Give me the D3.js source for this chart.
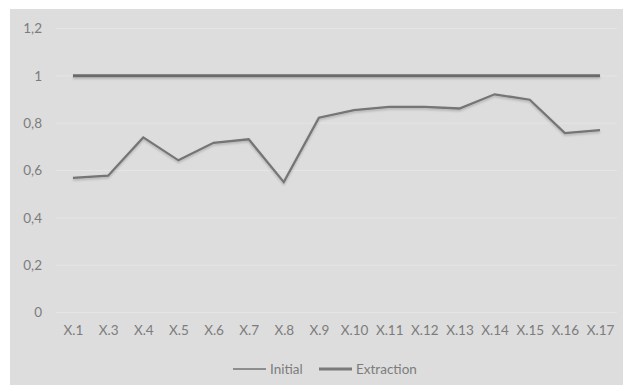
<!DOCTYPE html>
<html>
<head>
<meta charset="utf-8">
<script src="https://cdn.jsdelivr.net/npm/d3@7"></script>
<style>
  body { margin: 0; background: #fff; }
  text { font-family: Lato, "Open Sans", sans-serif; }
</style>
</head>
<body>
<script>
// data
const categories = ["X.1","X.3","X.4","X.5","X.6","X.7","X.8","X.9","X.10","X.11","X.12","X.13","X.14","X.15","X.16","X.17"];
const initial = [1,1,1,1,1,1,1,1,1,1,1,1,1,1,1,1];
const extraction = [0.569,0.578,0.740,0.643,0.717,0.732,0.551,0.823,0.855,0.869,0.869,0.862,0.922,0.899,0.758,0.771];
const yTicks = [0, 0.2, 0.4, 0.6, 0.8, 1, 1.2];
const seriesNames = ["Initial", "Extraction"];

const w = 623, h = 387;
const textColor = "#7c7c7c";

const svg = d3.select("body").append("svg")
  .attr("width", w)
  .attr("height", h);

// chart area background
svg.append("rect")
  .attr("x", 10).attr("y", 9)
  .attr("width", w - 10).attr("height", 376)
  .attr("fill", "#dddddd");

const x = d3.scalePoint()
  .domain(categories)
  .range([73, 600]);

const y = d3.scaleLinear()
  .domain([0, 1.2])
  .range([312.5, 28.5]);

const fmt = d => String(+d.toFixed(1)).replace(".", ",");

// gridlines
svg.append("g")
  .selectAll("line")
  .data(yTicks)
  .join("line")
  .attr("x1", 56).attr("x2", 617)
  .attr("y1", d => y(d)).attr("y2", d => y(d))
  .attr("stroke", "#e5e5e5")
  .attr("stroke-width", 1);

// y axis labels
const yAxis = svg.append("g")
  .attr("transform", "translate(42,0)")
  .call(d3.axisLeft(y).tickValues(yTicks).tickFormat(fmt).tickSize(0).tickPadding(0));
yAxis.select(".domain").remove();
yAxis.selectAll("text")
  .attr("fill", textColor)
  .style("font-size", "13.5px")
  .style("font-family", "Lato, 'Open Sans', sans-serif");

// x axis labels
const xAxis = svg.append("g")
  .attr("transform", "translate(0,325)")
  .call(d3.axisBottom(x).tickSize(0).tickPadding(0));
xAxis.select(".domain").remove();
xAxis.selectAll("text")
  .attr("fill", textColor)
  .style("font-size", "13.5px")
  .style("font-family", "Lato, 'Open Sans', sans-serif");

// shadow for lines (user space so flat lines keep it)
const defs = svg.append("defs");
const f = defs.append("filter").attr("id", "sh")
  .attr("filterUnits", "userSpaceOnUse")
  .attr("x", 0).attr("y", 0).attr("width", w).attr("height", h);
f.append("feDropShadow").attr("dx", 0).attr("dy", 1.5).attr("stdDeviation", 1)
  .attr("flood-color", "#000").attr("flood-opacity", 0.22);

const line = d3.line()
  .x((d, i) => x(categories[i]))
  .y(d => y(d));

svg.append("path")
  .datum(initial)
  .attr("d", line)
  .attr("fill", "none")
  .attr("stroke", "#6b6b6b")
  .attr("stroke-width", 3)
  .attr("filter", "url(#sh)");

svg.append("path")
  .datum(extraction)
  .attr("d", line)
  .attr("fill", "none")
  .attr("stroke", "#747474")
  .attr("stroke-width", 2.25)
  .attr("filter", "url(#sh)");

// legend
const legendItems = [
  { name: seriesNames[0], x: 233, color: "#8e8e8e", width: 2 },
  { name: seriesNames[1], x: 319, color: "#7a7a7a", width: 3 }
];
const lg = svg.append("g").attr("transform", "translate(0,369)");
legendItems.forEach(d => {
  lg.append("line")
    .attr("x1", d.x).attr("x2", d.x + 33)
    .attr("y1", 0).attr("y2", 0)
    .attr("stroke", d.color)
    .attr("stroke-width", d.width);
  lg.append("text")
    .attr("x", d.x + 37)
    .attr("y", 4.5)
    .attr("fill", textColor)
    .style("font-size", "13.5px")
    .text(d.name);
});
</script>
</body>
</html>
